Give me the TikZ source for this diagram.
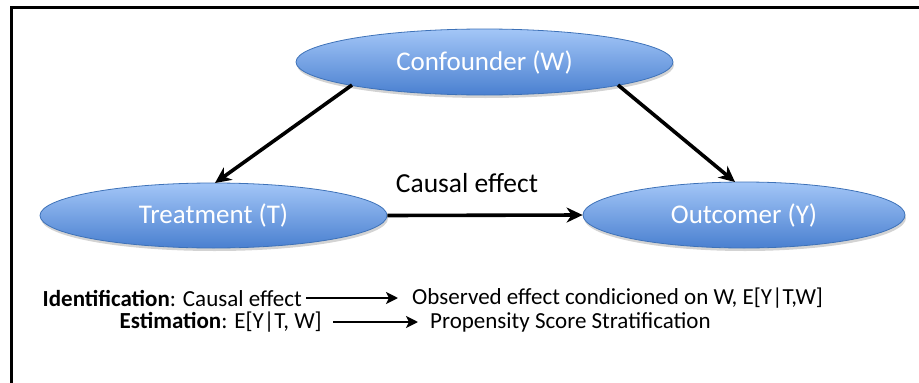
\documentclass[tikz,border=0pt]{standalone}
\usepackage{fontspec}
\setmainfont{Carlito}
\usetikzlibrary{shapes.geometric,arrows.meta,shadows}
\definecolor{elltop}{HTML}{A3C6F7}
\definecolor{ellbot}{HTML}{4A80D0}
\definecolor{ellline}{HTML}{3E72B8}
\tikzset{
  ell/.style={ellipse, draw=ellline, line width=0.8pt, top color=elltop, bottom color=ellbot,
    inner sep=0pt, text=white, font=\fontsize{27}{31}\selectfont,
    drop shadow={shadow xshift=1pt, shadow yshift=-3pt, opacity=0.35}},
  bigarrow/.style={line width=3.6pt, -{Stealth[length=16pt,width=15pt,inset=5pt]}},
  smallarrow/.style={line width=2.4pt, -{Stealth[length=12pt,width=12pt,inset=3pt]}},
  plain/.style={inner sep=0pt, font=\fontsize{23}{27}\selectfont},
  lbl/.style={inner sep=0pt, font=\fontsize{27.5}{31}\selectfont}
}
\begin{document}
\begin{tikzpicture}[x=1pt,y=-1pt]
\useasboundingbox (0,0) rectangle (919,383);
\draw[line width=3pt] (11,400) -- (11,7) -- (930,7);
\node[ell, minimum width=377pt, minimum height=66pt] (W) at (484.5,62) {Confounder (W)};
\node[ell, minimum width=347pt, minimum height=65pt] (T) at (213.5,215.5) {Treatment (T)};
\node[ell, minimum width=322pt, minimum height=66pt] (Y) at (744,215) {Outcomer (Y)};
\coordinate (wl) at (352,85);
\coordinate (wr) at (618,85);
\coordinate (tt) at (215,183);
\coordinate (yt) at (735,182);
\draw[bigarrow] (wl) -- (tt);
\draw[bigarrow] (wr) -- (yt);
\draw[bigarrow] (T.east) -- (Y.west);
\node[lbl] (ce) at (467,183) {Causal effect};
\node[plain, anchor=east] (id) at (302,298) {\textbf{Identification}: Causal effect};
\node[plain, anchor=west] (obs) at (412,298) {Observed effect condicioned on W, E[Y|T,W]};
\node[plain, anchor=east] (est) at (322,322) {\textbf{Estimation}: E[Y|T, W]};
\node[plain, anchor=west] (ps) at (430,322) {Propensity Score Stratification};
\draw[smallarrow] ([xshift=4pt]id.east) -- ([xshift=-14pt]obs.west);
\draw[smallarrow] ([xshift=11pt]est.east) -- ([xshift=-12pt]ps.west);
\end{tikzpicture}
\end{document}
